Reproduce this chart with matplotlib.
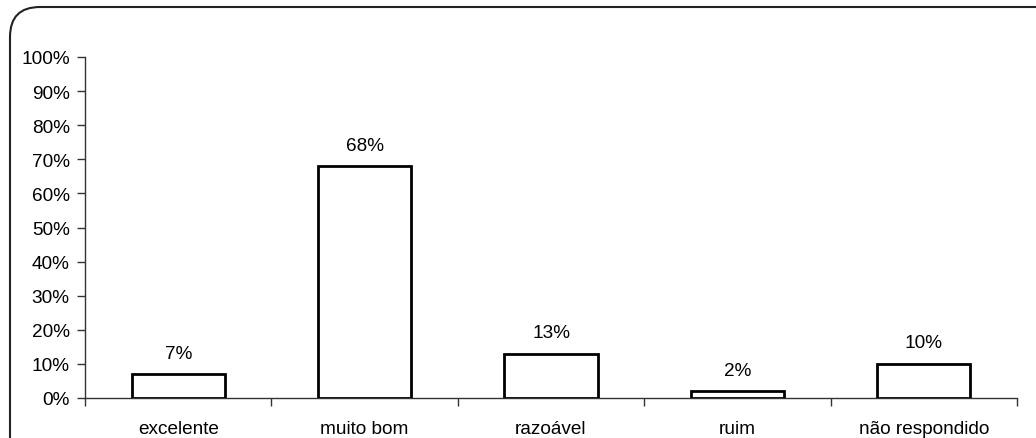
import matplotlib.pyplot as plt
import numpy as np
from matplotlib.patches import FancyBboxPatch
from matplotlib.ticker import FixedLocator

plt.rcParams['font.family'] = ['Liberation Sans', 'DejaVu Sans']

categories = ["excelente", "muito bom", "razoável", "ruim", "não respondido"]
values = [7, 68, 13, 2, 10]
y_ticks = list(range(0, 101, 10))

fig = plt.figure(figsize=(10.36, 4.39), dpi=100)
ax = fig.add_axes([85 / 1036, 1 - 399 / 439, (1017 - 85) / 1036, (399 - 58) / 439])

x = np.arange(len(categories))
bars = ax.bar(x, values, width=0.5, color="white", edgecolor="black", linewidth=2, zorder=3)

for xi, v in zip(x, values):
    ax.annotate(f"{v}%", (xi, v), xytext=(0, 9), textcoords="offset points",
                ha="center", va="bottom", fontsize=13.7)

ax.set_xlim(-0.5, len(categories) - 0.5)
ax.set_ylim(0, 100)
ax.set_yticks(y_ticks)
ax.set_yticklabels([f"{t}%" for t in y_ticks], fontsize=13.7)

# category boundaries get the tick marks, the names sit between them
ax.xaxis.set_major_locator(FixedLocator(np.arange(-0.5, len(categories), 1.0)))
ax.xaxis.set_minor_locator(FixedLocator(x))
ax.set_xticklabels([], minor=False)
ax.set_xticklabels(categories, minor=True, fontsize=13.7)
ax.tick_params(axis="x", which="major", direction="out", length=6, width=1, color="#333333")
ax.tick_params(axis="x", which="minor", length=0, pad=16)
ax.tick_params(axis="y", direction="out", length=6, width=1, color="#333333", pad=5)

for side in ["top", "right"]:
    ax.spines[side].set_visible(False)
for side in ["left", "bottom"]:
    ax.spines[side].set_linewidth(1)
    ax.spines[side].set_color("#333333")

# rounded frame around the whole chart (runs off the right and bottom edge)
frame = FancyBboxPatch((10, -40), 1060, 471, boxstyle="round,pad=0,rounding_size=30",
                       transform=None, facecolor="none", edgecolor="#222222",
                       linewidth=1.5, clip_on=False)
fig.patches.append(frame)

fig.savefig("out.png", dpi=100)
